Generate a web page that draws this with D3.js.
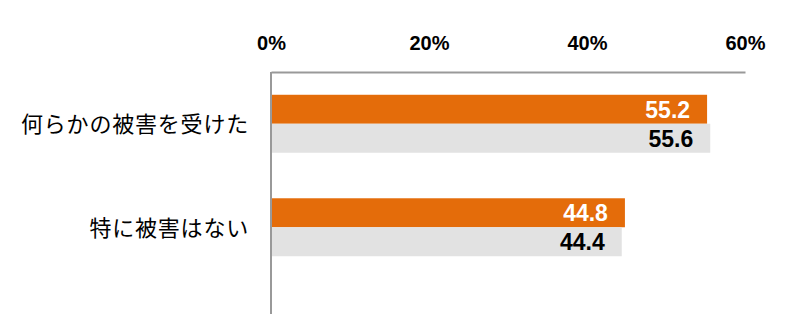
<!DOCTYPE html>
<html>
<head>
<meta charset="utf-8">
<script src="https://d3js.org/d3.v7.min.js"></script>
<style>
  body { margin: 0; background: #fff; }
</style>
</head>
<body>
<div id="chart"></div>
<script>
const categories = ['何らかの被害を受けた', '特に被害はない'];
const seriesNames = ['今回', '前回'];
const valuesCurrent = [55.2, 44.8];
const valuesPrevious = [55.6, 44.4];
const tickValues = [0, 20, 40, 60];

const width = 800, height = 314;
const margin = { top: 72, left: 271, right: 55 };

const svg = d3.select('#chart')
    .append('svg')
    .attr('width', width)
    .attr('height', height);

const x = d3.scaleLinear()
    .domain([0, 60])
    .range([margin.left, width - margin.right]);

const y = d3.scaleBand()
    .domain(categories)
    .range([margin.top, 279])
    .paddingInner(0.44)
    .paddingOuter(0.22);

const ySub = d3.scaleBand()
    .domain(seriesNames)
    .range([0, y.bandwidth()]);

const colors = { '今回': '#e46c0a', '前回': '#e2e2e2' };
const labelColors = { '今回': '#ffffff', '前回': '#000000' };

const rows = categories.map((c, i) => ({
    category: c,
    values: [
        { series: '今回', value: valuesCurrent[i] },
        { series: '前回', value: valuesPrevious[i] }
    ]
}));

// bars
const groups = svg.selectAll('g.group')
    .data(rows)
    .enter()
    .append('g')
    .attr('class', 'group')
    .attr('transform', d => `translate(0,${y(d.category)})`);

groups.selectAll('rect')
    .data(d => d.values)
    .enter()
    .append('rect')
    .attr('x', x(0))
    .attr('y', d => ySub(d.series))
    .attr('width', d => x(d.value) - x(0))
    .attr('height', ySub.bandwidth())
    .attr('fill', d => colors[d.series]);

groups.selectAll('text')
    .data(d => d.values)
    .enter()
    .append('text')
    .attr('x', d => x(d.value) - 17)
    .attr('y', d => ySub(d.series) + ySub.bandwidth() / 2)
    .attr('dy', '0.36em')
    .attr('text-anchor', 'end')
    .attr('font-family', '"Liberation Sans", Arial, sans-serif')
    .attr('font-weight', 'bold')
    .attr('font-size', 23)
    .attr('fill', d => labelColors[d.series])
    .text(d => d.value.toFixed(1));

// top axis
const axis = svg.append('g')
    .attr('transform', `translate(0,${margin.top})`)
    .call(d3.axisTop(x).tickValues(tickValues).tickFormat(d => d + '%').tickSize(0).tickPadding(22));

axis.select('.domain')
    .attr('stroke', '#999')
    .attr('stroke-width', 2);

axis.selectAll('text')
    .attr('font-family', '"Liberation Sans", Arial, sans-serif')
    .attr('font-weight', 'bold')
    .attr('font-size', 20)
    .attr('fill', '#000');

// vertical axis line
svg.append('line')
    .attr('x1', x(0))
    .attr('x2', x(0))
    .attr('y1', margin.top)
    .attr('y2', height)
    .attr('stroke', '#999')
    .attr('stroke-width', 2);

// category labels
svg.selectAll('text.cat')
    .data(categories)
    .enter()
    .append('text')
    .attr('class', 'cat')
    .attr('x', 249)
    .attr('y', d => y(d) + y.bandwidth() / 2)
    .attr('dy', '0.38em')
    .attr('text-anchor', 'end')
    .attr('font-family', '"Noto Sans CJK JP", sans-serif')
    .attr('font-size', 22)
    .attr('letter-spacing', 0.8)
    .attr('fill', '#000')
    .text(d => d);
</script>
</body>
</html>
